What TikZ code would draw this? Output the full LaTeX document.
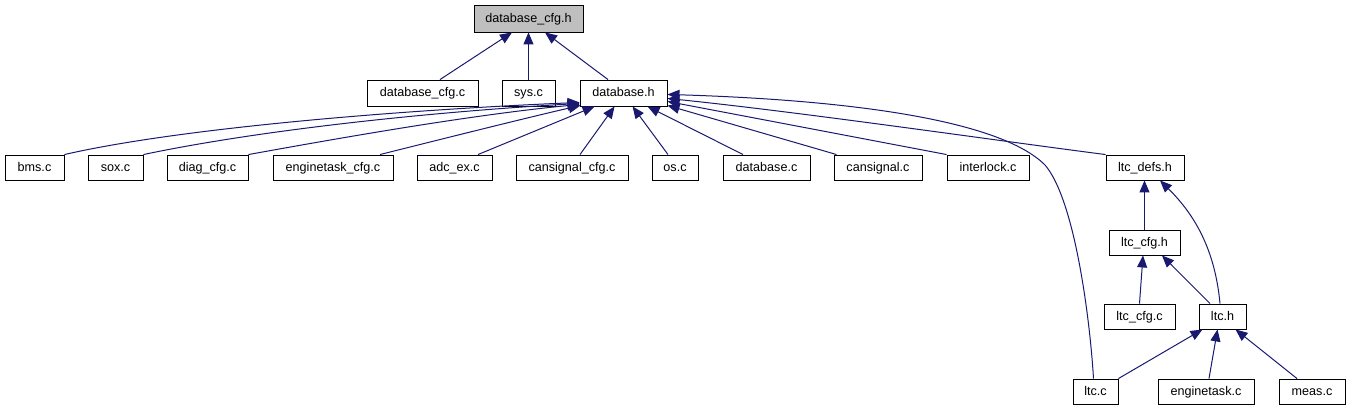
\documentclass[tikz,border=0pt]{standalone}
\usepackage{fontspec}
\setmainfont{Liberation Sans}
\usetikzlibrary{arrows.meta}
\definecolor{edgecol}{HTML}{191970}
\definecolor{rootfill}{HTML}{BFBFBF}
\begin{document}
\begin{tikzpicture}[x=1pt,y=-1pt,
  box/.style={draw=black, line width=0.9pt, inner sep=0pt, minimum height=25pt, text height=9pt, text depth=1.5pt, font=\fontsize{12.6}{14}\selectfont, fill=white},
  edge/.style={draw=edgecol, line width=1pt, -{Triangle[length=12pt,width=10pt]}, edgecol},
]
\useasboundingbox[fill=white] (0,0) rectangle (1350,411);
% nodes
\node[box, fill=rootfill, minimum width=109pt, minimum height=27pt] (dbcfgh) at (528.5,18.5) {database\_cfg.h};
\node[box, minimum width=111pt, minimum height=26pt] (dbcfgc) at (422.5,93) {database\_cfg.c};
\node[box, minimum width=53pt, minimum height=26pt] (sysc) at (528.5,93) {sys.c};
\node[box, minimum width=87pt, minimum height=26pt] (dbh) at (623.5,93) {database.h};
\node[box, minimum width=59pt] (bmsc) at (34.5,167.5) {bms.c};
\node[box, minimum width=55pt] (soxc) at (115.5,167.5) {sox.c};
\node[box, minimum width=81pt] (diagc) at (207.5,167.5) {diag\_cfg.c};
\node[box, minimum width=120pt] (engcfgc) at (333,167.5) {enginetask\_cfg.c};
\node[box, minimum width=75pt] (adcc) at (454.5,167.5) {adc\_ex.c};
\node[box, minimum width=112pt] (cscfgc) at (572,167.5) {cansignal\_cfg.c};
\node[box, minimum width=46pt] (osc) at (675,167.5) {os.c};
\node[box, minimum width=87pt] (dbc) at (766.5,167.5) {database.c};
\node[box, minimum width=88pt] (csc) at (878,167.5) {cansignal.c};
\node[box, minimum width=82pt] (ilc) at (988,167.5) {interlock.c};
\node[box, minimum width=78pt] (ltcdefsh) at (1145,167.5) {ltc\_defs.h};
\node[box, minimum width=71pt] (ltccfgh) at (1144.5,242.5) {ltc\_cfg.h};
\node[box, minimum width=71pt] (ltccfgc) at (1139.5,316.5) {ltc\_cfg.c};
\node[box, minimum width=47pt] (ltch) at (1222.5,316.5) {ltc.h};
\node[box, minimum width=45pt] (ltcc) at (1095.5,391.5) {ltc.c};
\node[box, minimum width=96pt] (engc) at (1206,391.5) {enginetask.c};
\node[box, minimum width=66pt] (measc) at (1312,391.5) {meas.c};
% edges to database_cfg.h
\draw[edge] ([xshift=17.5pt]dbcfgc.north) -- ([xshift=-16.5pt]dbcfgh.south);
\draw[edge] (sysc.north) -- (dbcfgh.south);
\draw[edge] ([xshift=-15.5pt]dbh.north) -- ([xshift=16.5pt]dbcfgh.south);
% edges to database.h
\draw[edge] (bmsc.north east) .. controls (180,128) and (400,110) .. ([yshift=4pt]dbh.south west);
\draw[edge] (soxc.north east) .. controls (260,130) and (430,112) .. ([yshift=3pt]dbh.south west);
\draw[edge] (diagc.north east) .. controls (340,138) and (470,115) .. ([yshift=2pt]dbh.south west);
\draw[edge] ([xshift=47pt]engcfgc.north) .. controls (450,137) and (530,117) .. ([xshift=1pt,yshift=1pt]dbh.south west);
\draw[edge] ([xshift=23.5pt]adcc.north) -- ([xshift=15pt]dbh.south west);
\draw[edge] ([xshift=8pt]cscfgc.north) -- ([xshift=35pt]dbh.south west);
\draw[edge] ([xshift=-7pt]osc.north) -- ([xshift=53pt]dbh.south west);
\draw[edge] ([xshift=-23.5pt]dbc.north) -- ([xshift=68pt]dbh.south west);
\draw[edge] ([xshift=3pt]csc.north west) -- ([yshift=1pt]dbh.south east);
\draw[edge] (ilc.north west) -- ([yshift=5pt]dbh.south east);
\draw[edge] (ltcdefsh.north west) .. controls (1000,141) and (800,112) .. ([yshift=8pt]dbh.south east);
\draw[edge] ([xshift=-2pt]ltcc.north) .. controls (1090,320) and (1075,200) .. (1045,165) .. controls (1000,120) and (850,100) .. ([yshift=12pt]dbh.south east);
% lower part
\draw[edge] (ltccfgh.north) -- (ltccfgh.north |- ltcdefsh.south);
\draw[edge] ([xshift=-2.5pt]ltch.north) .. controls (1215,250) and (1195,215) .. ([xshift=15pt]ltcdefsh.south);
\draw[edge] (ltccfgc.north) -- ([xshift=-1.5pt]ltccfgh.south);
\draw[edge] ([xshift=-12.5pt]ltch.north) -- ([xshift=17.5pt]ltccfgh.south);
\draw[edge] (ltcc.north east) -- ([xshift=-20pt]ltch.south);
\draw[edge] ([xshift=3pt]engc.north) -- ([xshift=-5pt]ltch.south);
\draw[edge] ([xshift=-15pt]measc.north) -- ([xshift=13pt]ltch.south);
\end{tikzpicture}
\end{document}
